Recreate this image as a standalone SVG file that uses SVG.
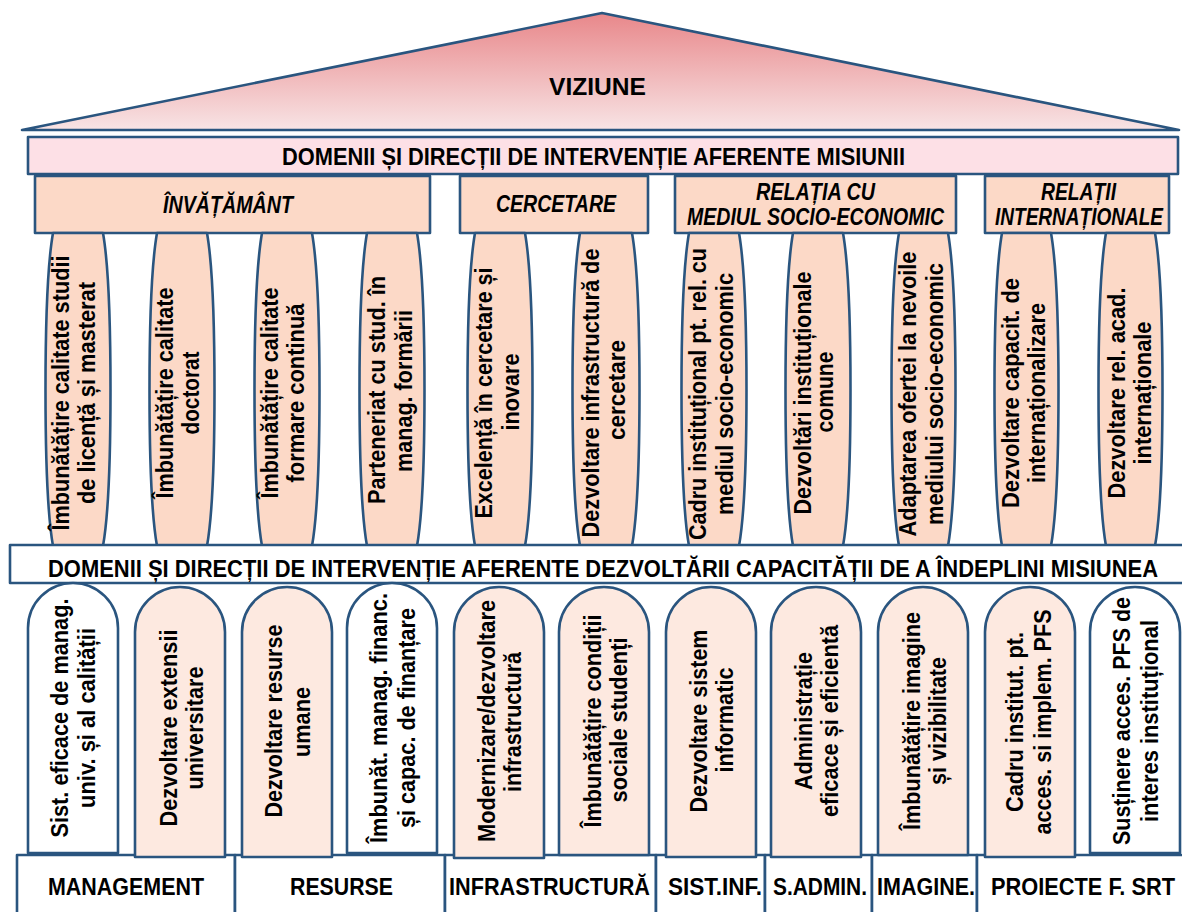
<svg xmlns="http://www.w3.org/2000/svg" width="1182" height="912" viewBox="0 0 1182 912">
<defs>
<linearGradient id="roofGrad" x1="0" y1="0" x2="0" y2="1">
<stop offset="0" stop-color="#E8878A"/>
<stop offset="1" stop-color="#F8E4E5"/>
</linearGradient>
</defs>
<style>
.ln{stroke:#2A557F;stroke-width:2.6;stroke-linejoin:round}
.t{font-family:"Liberation Sans",Arial,sans-serif;font-weight:bold;fill:#000}
.cat{font-style:italic;font-size:23px}
.band{font-size:24px}
.col{font-size:24px}
.lab{font-size:24px}
.peach{fill:#FCD9C7}
.light{fill:#FDE9E0}
.white{fill:#FFFFFF}
</style>

<g id="roof">
<path class="ln" d="M22 130 L602 13 L1179 130 Z" fill="url(#roofGrad)"/>
<text class="t" x="549" y="95" font-size="24" textLength="97" lengthAdjust="spacingAndGlyphs">VIZIUNE</text>
</g>

<g id="band-misiune">
<rect class="ln" x="28" y="137" width="1150" height="37" fill="#FDE0E6"/>
<text class="t band" x="282" y="165" textLength="623" lengthAdjust="spacingAndGlyphs">DOMENII ȘI DIRECȚII DE INTERVENȚIE AFERENTE MISIUNII</text>
</g>

<g id="cat-invatamant">
<rect class="ln peach" x="35" y="176" width="395" height="57"/>
<text class="t cat" x="163" y="213" textLength="130" lengthAdjust="spacingAndGlyphs">ÎNVĂȚĂMÂNT</text>
</g>
<g id="cat-cercetare">
<rect class="ln peach" x="460" y="176" width="188" height="57"/>
<text class="t cat" x="496" y="212" textLength="120" lengthAdjust="spacingAndGlyphs">CERCETARE</text>
</g>
<g id="cat-relatia">
<rect class="ln peach" x="675" y="176" width="281" height="57"/>
<text class="t cat" x="756" y="200" textLength="119" lengthAdjust="spacingAndGlyphs">RELAȚIA CU</text>
<text class="t cat" x="687" y="225" textLength="257" lengthAdjust="spacingAndGlyphs">MEDIUL SOCIO-ECONOMIC</text>
</g>
<g id="cat-relatii">
<rect class="ln peach" x="985" y="176" width="184" height="57"/>
<text class="t cat" x="1041" y="200" textLength="75" lengthAdjust="spacingAndGlyphs">RELAȚII</text>
<text class="t cat" x="995" y="225" textLength="168" lengthAdjust="spacingAndGlyphs">INTERNAȚIONALE</text>
</g>

<!-- upper columns -->
<g id="uc1">
<path class="ln peach" d="M53 233 C43 290 43 490 53 546 L103 546 C113 490 113 290 103 233 Z"/>
<text class="t col" transform="translate(69,393) rotate(-90)" text-anchor="middle" textLength="275" lengthAdjust="spacingAndGlyphs">Îmbunătățire calitate studii</text>
<text class="t col" transform="translate(95,393) rotate(-90)" text-anchor="middle" textLength="222" lengthAdjust="spacingAndGlyphs">de licență și masterat</text>
</g>
<g id="uc2">
<path class="ln peach" d="M157 233 C147 290 147 490 157 546 L207 546 C217 490 217 290 207 233 Z"/>
<text class="t col" transform="translate(173,393) rotate(-90)" text-anchor="middle" textLength="211" lengthAdjust="spacingAndGlyphs">Îmbunătățire calitate</text>
<text class="t col" transform="translate(199,393) rotate(-90)" text-anchor="middle" textLength="83" lengthAdjust="spacingAndGlyphs">doctorat</text>
</g>
<g id="uc3">
<path class="ln peach" d="M262 233 C252 290 252 490 262 546 L312 546 C322 490 322 290 312 233 Z"/>
<text class="t col" transform="translate(278,393) rotate(-90)" text-anchor="middle" textLength="211" lengthAdjust="spacingAndGlyphs">Îmbunătățire calitate</text>
<text class="t col" transform="translate(304,393) rotate(-90)" text-anchor="middle" textLength="179" lengthAdjust="spacingAndGlyphs">formare continuă</text>
</g>
<g id="uc4">
<path class="ln peach" d="M367 233 C357 290 357 490 367 546 L417 546 C427 490 427 290 417 233 Z"/>
<text class="t col" transform="translate(385,390) rotate(-90)" text-anchor="middle" textLength="228" lengthAdjust="spacingAndGlyphs">Parteneriat cu stud. în</text>
<text class="t col" transform="translate(412,391) rotate(-90)" text-anchor="middle" textLength="162" lengthAdjust="spacingAndGlyphs">manag. formării</text>
</g>
<g id="uc5">
<path class="ln peach" d="M475 233 C465 290 465 490 475 546 L525 546 C535 490 535 290 525 233 Z"/>
<text class="t col" transform="translate(492,393) rotate(-90)" text-anchor="middle" textLength="251" lengthAdjust="spacingAndGlyphs">Excelență în cercetare și</text>
<text class="t col" transform="translate(519,392) rotate(-90)" text-anchor="middle" textLength="77" lengthAdjust="spacingAndGlyphs">inovare</text>
</g>
<g id="uc6">
<path class="ln peach" d="M580 233 C570 290 570 490 580 546 L632 546 C642 490 642 290 632 233 Z"/>
<text class="t col" transform="translate(599,393) rotate(-90)" text-anchor="middle" textLength="289" lengthAdjust="spacingAndGlyphs">Dezvoltare infrastructură de</text>
<text class="t col" transform="translate(625,390) rotate(-90)" text-anchor="middle" textLength="100" lengthAdjust="spacingAndGlyphs">cercetare</text>
</g>
<g id="uc7">
<path class="ln peach" d="M689 233 C679 290 679 490 689 546 L739 546 C749 490 749 290 739 233 Z"/>
<text class="t col" transform="translate(706,394) rotate(-90)" text-anchor="middle" textLength="292" lengthAdjust="spacingAndGlyphs">Cadru instituțional pt. rel. cu</text>
<text class="t col" transform="translate(733,394) rotate(-90)" text-anchor="middle" textLength="242" lengthAdjust="spacingAndGlyphs">mediul socio-economic</text>
</g>
<g id="uc8">
<path class="ln peach" d="M793 233 C783 290 783 490 793 546 L843 546 C853 490 853 290 843 233 Z"/>
<text class="t col" transform="translate(811,393) rotate(-90)" text-anchor="middle" textLength="243" lengthAdjust="spacingAndGlyphs">Dezvoltări instituționale</text>
<text class="t col" transform="translate(833,392) rotate(-90)" text-anchor="middle" textLength="81" lengthAdjust="spacingAndGlyphs">comune</text>
</g>
<g id="uc9">
<path class="ln peach" d="M899 233 C889 290 889 490 899 546 L948 546 C958 490 958 290 948 233 Z"/>
<text class="t col" transform="translate(916,394) rotate(-90)" text-anchor="middle" textLength="285" lengthAdjust="spacingAndGlyphs">Adaptarea ofertei la nevoile</text>
<text class="t col" transform="translate(943,394) rotate(-90)" text-anchor="middle" textLength="262" lengthAdjust="spacingAndGlyphs">mediului socio-economic</text>
</g>
<g id="uc10">
<path class="ln peach" d="M1002 233 C992 290 992 490 1002 546 L1051 546 C1061 490 1061 290 1051 233 Z"/>
<text class="t col" transform="translate(1019,393) rotate(-90)" text-anchor="middle" textLength="230" lengthAdjust="spacingAndGlyphs">Dezvoltare capacit. de</text>
<text class="t col" transform="translate(1045,393) rotate(-90)" text-anchor="middle" textLength="180" lengthAdjust="spacingAndGlyphs">internaționalizare</text>
</g>
<g id="uc11">
<path class="ln peach" d="M1106 233 C1096 290 1096 490 1106 546 L1155 546 C1165 490 1165 290 1155 233 Z"/>
<text class="t col" transform="translate(1125,393) rotate(-90)" text-anchor="middle" textLength="211" lengthAdjust="spacingAndGlyphs">Dezvoltare rel. acad.</text>
<text class="t col" transform="translate(1151,393) rotate(-90)" text-anchor="middle" textLength="143" lengthAdjust="spacingAndGlyphs">internaționale</text>
</g>

<g id="band-capacitate">
<rect class="ln" x="10" y="545" width="1185" height="38" fill="#FFFFFF"/>
<text class="t band" x="48" y="577" textLength="1110" lengthAdjust="spacingAndGlyphs">DOMENII ȘI DIRECȚII DE INTERVENȚIE AFERENTE DEZVOLTĂRII CAPACITĂȚII DE A ÎNDEPLINI MISIUNEA</text>
</g>

<!-- bottom labels -->
<g id="lab-management">
<rect class="ln white" x="17" y="855" width="218" height="70"/>
<text class="t lab" x="48" y="895" textLength="156" lengthAdjust="spacingAndGlyphs">MANAGEMENT</text>
</g>
<g id="lab-resurse">
<rect class="ln white" x="235" y="855" width="210" height="70"/>
<text class="t lab" x="290" y="895" textLength="103" lengthAdjust="spacingAndGlyphs">RESURSE</text>
</g>
<g id="lab-infrastructura">
<rect class="ln white" x="445" y="855" width="211" height="70"/>
<text class="t lab" x="449" y="895" textLength="201" lengthAdjust="spacingAndGlyphs">INFRASTRUCTURĂ</text>
</g>
<g id="lab-sistinf">
<rect class="ln white" x="656" y="855" width="109" height="70"/>
<text class="t lab" x="668" y="895" textLength="94" lengthAdjust="spacingAndGlyphs">SIST.INF.</text>
</g>
<g id="lab-sadmin">
<rect class="ln white" x="765" y="855" width="107" height="70"/>
<text class="t lab" x="773" y="895" textLength="94" lengthAdjust="spacingAndGlyphs">S.ADMIN.</text>
</g>
<g id="lab-imagine">
<rect class="ln white" x="872" y="855" width="105" height="70"/>
<text class="t lab" x="877" y="895" textLength="98" lengthAdjust="spacingAndGlyphs">IMAGINE.</text>
</g>
<g id="lab-proiecte">
<rect class="ln white" x="977" y="855" width="215" height="70"/>
<text class="t lab" x="991" y="895" textLength="184" lengthAdjust="spacingAndGlyphs">PROIECTE F. SRT</text>
</g>

<!-- lower columns -->
<g id="lc1">
<path class="ln white" d="M28 853 L28 628 A45 45 0 0 1 118 628 L118 853 Z"/>
<text class="t col" transform="translate(68,718) rotate(-90)" text-anchor="middle" textLength="239" lengthAdjust="spacingAndGlyphs">Sist. eficace de manag.</text>
<text class="t col" transform="translate(95,718) rotate(-90)" text-anchor="middle" textLength="180" lengthAdjust="spacingAndGlyphs">univ. și al calității</text>
</g>
<g id="lc2">
<path class="ln light" d="M135 857 L135 632 A45 45 0 0 1 225 632 L225 857 Z"/>
<text class="t col" transform="translate(177,728) rotate(-90)" text-anchor="middle" textLength="197" lengthAdjust="spacingAndGlyphs">Dezvoltare extensii</text>
<text class="t col" transform="translate(203,728) rotate(-90)" text-anchor="middle" textLength="123" lengthAdjust="spacingAndGlyphs">universitare</text>
</g>
<g id="lc3">
<path class="ln light" d="M242 857 L242 632 A45 45 0 0 1 332 632 L332 857 Z"/>
<text class="t col" transform="translate(282,721) rotate(-90)" text-anchor="middle" textLength="193" lengthAdjust="spacingAndGlyphs">Dezvoltare resurse</text>
<text class="t col" transform="translate(310,722) rotate(-90)" text-anchor="middle" textLength="70" lengthAdjust="spacingAndGlyphs">umane</text>
</g>
<g id="lc4">
<path class="ln white" d="M347 853 L347 628 A45 45 0 0 1 437 628 L437 853 Z"/>
<text class="t col" transform="translate(387,718) rotate(-90)" text-anchor="middle" textLength="250" lengthAdjust="spacingAndGlyphs">Îmbunăt. manag. financ.</text>
<text class="t col" transform="translate(415,718) rotate(-90)" text-anchor="middle" textLength="220" lengthAdjust="spacingAndGlyphs">și capac. de finanțare</text>
</g>
<g id="lc5">
<path class="ln light" d="M454 858 L454 632 A45 45 0 0 1 544 632 L544 858 Z"/>
<text class="t col" transform="translate(495,721) rotate(-90)" text-anchor="middle" textLength="242" lengthAdjust="spacingAndGlyphs">Modernizare/dezvoltare</text>
<text class="t col" transform="translate(521,722) rotate(-90)" text-anchor="middle" textLength="140" lengthAdjust="spacingAndGlyphs">infrastructură</text>
</g>
<g id="lc6">
<path class="ln light" d="M559 855 L559 632 A45 45 0 0 1 649 632 L649 855 Z"/>
<text class="t col" transform="translate(601,721) rotate(-90)" text-anchor="middle" textLength="213" lengthAdjust="spacingAndGlyphs">Îmbunătățire condiții</text>
<text class="t col" transform="translate(627,720) rotate(-90)" text-anchor="middle" textLength="165" lengthAdjust="spacingAndGlyphs">sociale studenți</text>
</g>
<g id="lc7">
<path class="ln light" d="M666 857 L666 632 A45 45 0 0 1 756 632 L756 857 Z"/>
<text class="t col" transform="translate(707,721) rotate(-90)" text-anchor="middle" textLength="183" lengthAdjust="spacingAndGlyphs">Dezvoltare sistem</text>
<text class="t col" transform="translate(733,720) rotate(-90)" text-anchor="middle" textLength="105" lengthAdjust="spacingAndGlyphs">informatic</text>
</g>
<g id="lc8">
<path class="ln light" d="M771 857 L771 632 A45 45 0 0 1 861 632 L861 857 Z"/>
<text class="t col" transform="translate(812,721) rotate(-90)" text-anchor="middle" textLength="138" lengthAdjust="spacingAndGlyphs">Administrație</text>
<text class="t col" transform="translate(838,721) rotate(-90)" text-anchor="middle" textLength="192" lengthAdjust="spacingAndGlyphs">eficace și eficientă</text>
</g>
<g id="lc9">
<path class="ln light" d="M878 855 L878 632 A45 45 0 0 1 968 632 L968 855 Z"/>
<text class="t col" transform="translate(920,721) rotate(-90)" text-anchor="middle" textLength="218" lengthAdjust="spacingAndGlyphs">Îmbunătățire imagine</text>
<text class="t col" transform="translate(946,721) rotate(-90)" text-anchor="middle" textLength="128" lengthAdjust="spacingAndGlyphs">și vizibilitate</text>
</g>
<g id="lc10">
<path class="ln light" d="M985 857 L985 632 A45 45 0 0 1 1075 632 L1075 857 Z"/>
<text class="t col" transform="translate(1023,722) rotate(-90)" text-anchor="middle" textLength="180" lengthAdjust="spacingAndGlyphs">Cadru institut. pt.</text>
<text class="t col" transform="translate(1051,722) rotate(-90)" text-anchor="middle" textLength="225" lengthAdjust="spacingAndGlyphs">acces. si implem. PFS</text>
</g>
<g id="lc11">
<path class="ln white" d="M1090 853 L1090 632 A45 45 0 0 1 1180 632 L1180 853 Z"/>
<text class="t col" transform="translate(1130,721) rotate(-90)" text-anchor="middle" textLength="248" lengthAdjust="spacingAndGlyphs">Susținere acces. PFS de</text>
<text class="t col" transform="translate(1158,721) rotate(-90)" text-anchor="middle" textLength="202" lengthAdjust="spacingAndGlyphs">interes instituțional</text>
</g>

<g id="connectors"></g>
</svg>
